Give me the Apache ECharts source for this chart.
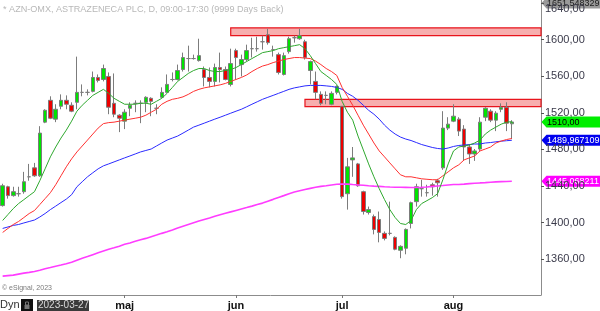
<!DOCTYPE html>
<html><head><meta charset="utf-8">
<script src="https://cdn.jsdelivr.net/npm/echarts@6/dist/echarts.min.js"></script>
<style>html,body{margin:0;padding:0;background:#fff}#c{width:600px;height:311px}</style>
</head><body><div id="c"></div>
<script>
const dates = [
 '2023-03-27','2023-03-28','2023-03-29','2023-03-30','2023-03-31',
 '2023-04-03','2023-04-04','2023-04-05','2023-04-06','2023-04-11','2023-04-12','2023-04-13','2023-04-14',
 '2023-04-17','2023-04-18','2023-04-19','2023-04-20','2023-04-21','2023-04-24','2023-04-25','2023-04-26','2023-04-27','2023-04-28',
 '2023-05-02','2023-05-03','2023-05-04','2023-05-05','2023-05-08','2023-05-09','2023-05-10','2023-05-11','2023-05-12',
 '2023-05-15','2023-05-16','2023-05-17','2023-05-19','2023-05-22','2023-05-23','2023-05-24','2023-05-25','2023-05-26',
 '2023-05-29','2023-05-30','2023-05-31',
 '2023-06-01','2023-06-02','2023-06-05','2023-06-07','2023-06-08','2023-06-09','2023-06-12','2023-06-13','2023-06-14','2023-06-15','2023-06-16',
 '2023-06-19','2023-06-20','2023-06-21','2023-06-22','2023-06-26','2023-06-27','2023-06-28','2023-06-29','2023-06-30',
 '2023-07-03','2023-07-04','2023-07-05','2023-07-06','2023-07-07','2023-07-10','2023-07-11','2023-07-12','2023-07-13','2023-07-14',
 '2023-07-17','2023-07-18','2023-07-19','2023-07-20','2023-07-21','2023-07-24','2023-07-25','2023-07-26','2023-07-27','2023-07-28','2023-07-31',
 '2023-08-01','2023-08-02','2023-08-03','2023-08-04','2023-08-07','2023-08-08','2023-08-09','2023-08-10','2023-08-11',
 '2023-08-14','2023-08-15','2023-08-16',
 '2023-08-17','2023-08-18','2023-08-21','2023-08-22','2023-08-23'
];
// [open, close, low, high]
const candles = [
 [1418.5,1440.2,1417.4,1442.4],[1439.1,1429.4,1426.1,1440.2],[1429.4,1433.7,1428.3,1439.1],[1431.5,1431.5,1428.3,1439.1],
 [1433.7,1444.6,1431.5,1455.4],[1450.0,1450.0,1445.7,1464.1],[1459.8,1451.1,1450.0,1465.2],[1451.1,1497.8,1450.0,1505.4],
 [1509.8,1522.8,1508.7,1523.9],[1533.7,1514.1,1513.1,1538.1],[1513.1,1523.9,1509.8,1529.4],[1527.2,1533.7,1523.9,1540.2],
 [1533.7,1529.4,1523.9,1539.1],[1528.3,1521.8,1520.7,1531.5],[1531.5,1542.4,1523.9,1581.5],[1542.4,1542.4,1538.1,1551.1],
 [1542.4,1542.4,1539.1,1545.7],[1543.5,1558.7,1542.4,1565.2],[1558.7,1555.5,1553.3,1562.0],[1556.5,1568.5,1554.4,1572.8],
 [1559.8,1526.1,1518.5,1564.2],[1530.4,1518.5,1515.2,1563.1],[1517.4,1514.1,1498.9,1518.5],[1510.9,1520.7,1502.2,1523.9],
 [1525.0,1528.3,1516.3,1531.5],[1530.4,1530.4,1520.7,1533.7],[1530.4,1530.4,1508.7,1533.7],[1531.5,1537.0,1520.7,1538.1],
 [1535.9,1532.6,1516.3,1537.0],[1525.0,1525.0,1518.5,1529.4],[1537.0,1542.4,1535.9,1547.9],[1542.4,1551.1,1542.4,1562.0],
 [1556.5,1556.5,1554.4,1564.2],[1556.5,1566.3,1555.5,1572.8],[1567.4,1580.5,1565.2,1585.9],[1579.4,1579.4,1565.2,1593.5],
 [1579.4,1579.4,1578.3,1583.7],[1577.2,1582.6,1576.1,1601.1],[1567.4,1558.7,1548.9,1570.7],[1558.7,1554.4,1547.9,1569.6],
 [1554.4,1569.6,1548.9,1573.9],[1569.6,1567.4,1553.3,1585.9],[1567.4,1556.5,1555.5,1570.7],[1551.1,1573.9,1548.9,1590.2],
 [1588.1,1580.5,1556.5,1590.2],[1572.8,1578.3,1559.8,1583.7],[1578.3,1588.1,1576.1,1594.6],[1590.2,1590.2,1580.5,1602.2],
 [1590.2,1590.2,1587.0,1603.3],[1597.8,1597.8,1589.2,1604.4],[1605.5,1596.8,1594.6,1612.0],[1589.2,1589.2,1581.5,1593.5],
 [1583.7,1564.2,1562.0,1585.9],[1562.0,1582.6,1560.9,1585.9],[1587.0,1601.1,1584.8,1603.3],[1602.2,1602.2,1596.8,1604.4],
 [1601.1,1604.4,1600.0,1612.0],[1597.8,1580.5,1578.3,1600.0],[1566.3,1576.1,1551.1,1577.2],[1554.4,1542.4,1534.8,1565.2],
 [1540.2,1530.4,1528.3,1543.5],[1539.1,1539.1,1529.4,1543.5],[1529.4,1541.3,1528.3,1543.5],[1542.4,1548.9,1540.2,1550.0],
 [1527.2,1428.3,1426.1,1527.2],[1431.5,1460.9,1414.1,1470.7],[1468.5,1470.7,1450.0,1482.6],[1464.1,1440.2,1439.1,1465.2],
 [1433.7,1412.0,1408.7,1434.8],[1410.9,1414.1,1408.7,1417.4],[1406.5,1392.4,1387.0,1408.7],[1403.3,1389.1,1378.3,1412.0],
 [1388.1,1382.6,1380.4,1390.2],[1388.1,1388.1,1385.9,1422.8],[1383.7,1370.7,1369.6,1384.8],[1369.6,1373.9,1360.9,1375.0],
 [1371.8,1392.4,1365.2,1393.5],[1398.9,1421.7,1393.5,1422.8],[1422.8,1439.1,1417.4,1442.4],[1437.0,1437.0,1428.3,1446.7],
 [1432.6,1432.6,1428.3,1441.3],[1441.3,1439.1,1429.4,1443.5],[1445.7,1443.5,1428.3,1447.8],[1459.8,1503.3,1457.6,1521.8],
 [1503.3,1507.6,1501.1,1515.2],[1510.9,1516.3,1509.8,1529.4],[1513.1,1500.0,1494.6,1515.2],[1502.2,1482.6,1467.4,1506.5],
 [1482.6,1475.0,1464.1,1485.9],[1475.0,1478.3,1467.4,1480.4],[1480.4,1509.8,1478.3,1515.2],[1515.2,1525.0,1510.9,1526.1],
 [1521.8,1512.0,1509.8,1523.9],[1512.0,1519.6,1500.0,1521.8],[1523.9,1526.1,1520.7,1530.4],[1526.1,1508.7,1500.0,1531.5],
 [1508.0,1510.0,1491.3,1512.0]
];
const maGreen = [
 1402.2,1408.7,1415.2,1420.7,1425.0,1429.4,1433.7,1445.7,1458.7,1471.8,1482.6,1492.4,1501.1,1510.9,1521.8,1528.3,
 1533.7,1539.1,1542.4,1545.7,1541.3,1535.9,1532.6,1529.4,1529.4,1529.4,1530.5,1530.5,1529.4,1532.6,1535.9,1541.3,
 1547.8,1554.4,1558.7,1563.1,1566.3,1568.5,1568.5,1566.3,1565.2,1565.2,1566.3,1567.4,1569.6,1572.8,1576.1,1579.4,
 1582.6,1585.9,1587.0,1588.1,1590.2,1591.3,1592.4,1593.5,1594.6,1590.2,1582.6,1573.9,1565.2,1560.9,1556.5,1551.1,
 1532.6,1520.7,1512.0,1494.6,1479.4,1464.1,1450.0,1437.0,1425.0,1414.1,1405.4,1398.9,1397.8,1402.2,1414.1,1420.7,
 1423.9,1427.2,1431.5,1446.8,1464.1,1478.3,1482.6,1483.7,1484.8,1487.0,1490.2,1496.8,1501.1,1504.4,1507.6,1509.8,1510.3
];
const maRed = [
 1389.1,1393.5,1397.8,1401.1,1405.4,1409.8,1413.1,1419.6,1426.1,1432.6,1441.3,1451.1,1460.9,1469.6,1477.2,1483.7,
 1490.2,1496.8,1503.3,1508.2,1509.3,1509.8,1510.9,1512.0,1513.1,1514.1,1515.2,1517.4,1520.7,1523.9,1529.4,1532.6,
 1534.8,1535.9,1537.5,1540.2,1543.5,1545.7,1547.3,1548.4,1549.5,1550.6,1552.2,1554.4,1556.5,1558.7,1561.4,1565.2,
 1568.5,1571.2,1572.8,1575.0,1576.6,1578.3,1579.4,1580.5,1580.5,1579.9,1579.4,1576.6,1572.8,1568.5,1565.2,1560.9,
 1547.8,1538.1,1528.3,1517.4,1506.5,1496.8,1487.0,1478.3,1471.8,1465.2,1458.7,1452.2,1450.0,1450.0,1448.9,1447.8,
 1447.3,1446.8,1446.8,1451.1,1455.4,1459.8,1463.1,1468.5,1470.7,1472.8,1478.3,1480.4,1482.6,1487.0,1489.1,1490.8,1491.9
];
const maBlue = [
 1393.5,1395.1,1396.8,1397.8,1399.5,1401.1,1402.7,1406.0,1409.8,1414.1,1417.9,1421.8,1425.6,1430.4,1439.1,1444.6,
 1450.0,1454.4,1458.7,1462.0,1464.1,1466.3,1468.5,1470.7,1472.8,1475.0,1477.2,1478.8,1480.4,1483.7,1487.0,1490.2,
 1492.4,1494.6,1497.8,1501.1,1504.4,1506.5,1508.7,1510.9,1513.1,1515.2,1517.4,1519.6,1521.8,1523.9,1526.6,1529.4,
 1532.1,1534.8,1537.0,1539.1,1541.3,1543.5,1545.7,1547.3,1548.4,1549.5,1550.0,1550.0,1550.0,1549.5,1548.9,1547.8,
 1545.7,1541.3,1538.1,1533.7,1528.3,1522.8,1518.5,1513.1,1506.5,1501.1,1496.8,1493.5,1491.3,1489.7,1487.5,1485.3,
 1483.7,1482.1,1481.0,1480.4,1481.5,1483.2,1484.3,1484.8,1485.3,1485.9,1485.9,1487.0,1487.5,1488.3,1489.0,1489.5,1489.967109
];
const maMagenta = [
 1341.3,1341.9,1342.4,1343.5,1344.6,1345.4,1346.3,1347.8,1349.4,1350.7,1352.2,1353.5,1354.9,1356.5,1358.7,1360.9,
 1362.7,1364.8,1366.9,1368.8,1370.7,1372.3,1374.1,1376.1,1377.6,1379.4,1381.0,1382.6,1384.4,1386.2,1388.1,1389.9,
 1391.9,1394.0,1395.9,1397.8,1399.7,1401.6,1403.3,1405.0,1406.8,1408.4,1410.0,1411.6,1413.2,1414.8,1416.3,1417.9,
 1419.6,1421.2,1423.3,1425.3,1427.4,1429.4,1431.5,1433.4,1434.8,1436.1,1437.3,1438.5,1439.5,1440.2,1441.0,1441.8,
 1442.2,1442.0,1441.5,1441.1,1440.7,1440.2,1439.8,1439.5,1439.1,1438.8,1438.6,1438.5,1438.4,1438.3,1438.3,1438.5,
 1438.9,1439.5,1440.0,1440.4,1441.0,1441.5,1441.6,1442.0,1442.5,1442.9,1443.3,1443.6,1444.0,1444.4,1444.7,1444.9,1445.068211
];
// resistance zones: [start date, top, bottom]
const zones = [['2023-05-31',1613.0,1604.4],['2023-06-21',1534.8,1526.9]];
const yTicks = [1360,1400,1440,1480,1520,1560,1600,1640];
const monthNames = {'05':'maj','06':'jun','07':'jul','08':'aug'};
const tagTop = 1651.548329, tagPrice = 1510.00, tagBlue = 1489.967109, tagMagenta = 1445.068211;

const fmt = (v, d) => v.toFixed(d).replace('.', ',');
const isMonthStart = (i) => i > 0 && i < dates.length && dates[i].slice(5,7) !== dates[i-1].slice(5,7) && monthNames[dates[i].slice(5,7)];

const chart = echarts.init(document.getElementById('c'), null, {renderer:'canvas'});
const FONT = '"Liberation Sans", Arial, sans-serif';
const option = {
  animation: false,
  grid: {left: -2, right: 59, top: 0, bottom: 14},
  xAxis: {
    type: 'category', data: dates, boundaryGap: true,
    axisLine: {show: true, lineStyle: {color: '#8c8c8c', width: 1}},
    axisTick: {show: true, alignWithLabel: true, length: 3, interval: (i) => !!isMonthStart(i), lineStyle: {color: '#777'}},
    axisLabel: {interval: (i) => !!isMonthStart(i), formatter: (v) => monthNames[v.slice(5,7)] || '',
      color: '#111', fontSize: 11, fontWeight: 'bold', fontFamily: FONT, margin: 5},
    splitLine: {show: false}
  },
  yAxis: {
    type: 'value', position: 'right', min: 1320.65, max: 1643.48, scale: true,
    axisLine: {show: true, lineStyle: {color: '#8c8c8c', width: 1}},
    axisTick: {show: true, length: 3, customValues: yTicks, lineStyle: {color: '#555'}},
    axisLabel: {customValues: yTicks, color: '#3a3a4a', fontSize: 11, fontFamily: FONT, margin: 4,
      formatter: (v) => v === 1640 ? '{t|' + fmt(v, 2) + '}' : fmt(v, 2),
      rich: {t: {padding: [12, 0, 0, 0], color: '#3a3a4a', fontSize: 11, fontFamily: FONT}}},
    splitLine: {show: false}
  },
  series: [
    {type: 'custom', z: 1, data: zones, encode: {x: 0, y: [1, 2]},
     renderItem: (params, api) => {
       const p1 = api.coord([api.value(0), api.value(1)]);
       const p2 = api.coord([api.value(0), api.value(2)]);
       const cs = params.coordSys;
       return {type: 'rect', shape: {x: p1[0], y: p1[1], width: cs.x + cs.width - p1[0], height: p2[1] - p1[1]},
         style: {fill: 'rgba(242,120,120,0.6)', stroke: '#e8141c', lineWidth: 1.2}};
     }},
    {type: 'candlestick', z: 3, data: candles, barWidth: 4,
     itemStyle: {color: '#00e400', color0: '#ee0000', borderColor: '#7c7c7c', borderColor0: '#7c7c7c', borderColorDoji: '#7c7c7c', borderWidth: 1}},
    {type: 'line', z: 4, data: maMagenta, symbol: 'none', lineStyle: {color: '#ff3cff', width: 1.6}},
    {type: 'line', z: 4, data: maBlue, symbol: 'none', lineStyle: {color: '#2a2aff', width: 1}},
    {type: 'line', z: 4, data: maRed, symbol: 'none', lineStyle: {color: '#ff3030', width: 1}},
    {type: 'line', z: 4, data: maGreen, symbol: 'none', lineStyle: {color: '#2ea82e', width: 1}}
  ]
};
chart.setOption(option);

function tag(value, text, bg, fg, clampTop) {
  let y = chart.convertToPixel({yAxisIndex: 0}, value);
  if (clampTop !== undefined) y = Math.max(y, clampTop);
  const ax = chart.convertToPixel({xAxisIndex: 0}, dates[dates.length - 1]) + 5.3 / 2 + 0.5;
  const h = 5.5;
  return {type: 'group', z: 100, children: [
    {type: 'polygon', shape: {points: [[ax, y], [ax + 5, y - h], [600, y - h], [600, y + h], [ax + 5, y + h]]}, style: {fill: bg}},
    {type: 'text', x: ax + 5.5, y: y + 0.5, style: {text: text, fill: fg, font: '9px ' + FONT, verticalAlign: 'middle'}}
  ]};
}
const graphics = [
  {type: 'text', left: 3, top: 5, z: 50, style: {text: '* AZN-OMX, ASTRAZENECA PLC, D, 09:00-17:30 (9999 Days Back)', fill: '#b8b8b8', font: '9.1px ' + FONT}},
  {type: 'text', left: 2, top: 285, z: 50, style: {text: '\u00a9 eSignal, 2023', fill: '#7a7a7a', font: '7px ' + FONT}},
  {type: 'text', left: 0, top: 299, z: 50, style: {text: 'Dyn', fill: '#333', font: '11px ' + FONT}},
  {type: 'rect', shape: {x: 21, y: 299, width: 12, height: 12}, style: {fill: '#111'}, z: 50},
  {type: 'rect', shape: {x: 24.5, y: 305, width: 5, height: 4}, style: {fill: '#777'}, z: 51},
  {type: 'rect', shape: {x: 25.5, y: 302, width: 3, height: 3}, style: {fill: 'none', stroke: '#777', lineWidth: 1}, z: 51},
  {type: 'rect', shape: {x: 37, y: 300, width: 52, height: 11}, style: {fill: '#3a3a3a'}, z: 50},
  {type: 'text', left: 38, top: 300.5, z: 51, style: {text: dates[0], fill: '#d8d8d8', font: '10px ' + FONT}},
  tag(tagMagenta, fmt(tagMagenta, 6), '#ff00ff', '#ffffff'),
  tag(tagBlue, fmt(tagBlue, 6), '#0000ee', '#ffffff'),
  tag(tagPrice, fmt(tagPrice, 2), '#00ee00', '#000000'),
  tag(tagTop, fmt(tagTop, 6), '#9a9a9a', '#202020', 3)
];
chart.setOption({graphic: graphics});
</script>
</body></html>
